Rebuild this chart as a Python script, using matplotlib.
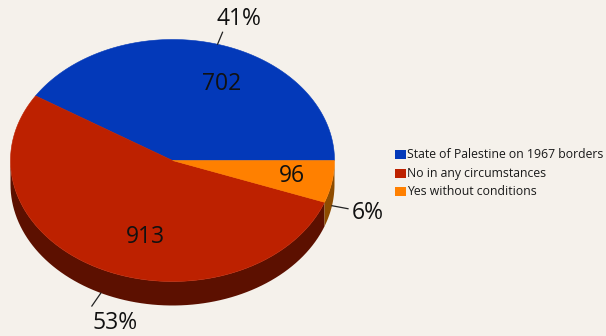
import numpy as np
import matplotlib.pyplot as plt
from matplotlib.patches import Polygon, Rectangle

labels = ["State of Palestine on 1967 borders", "No in any circumstances",
          "Yes without conditions"]
counts = [702, 913, 96]

top_colors = ["#0339b9", "#bd2100", "#ff8000"]
side_colors = ["#021f66", "#5c1000", "#8e4c00"]
bg = "#f5f1eb"

plt.rcParams['font.family'] = ['Open Sans', 'DejaVu Sans']

# pie geometry, in pixels
cx, cy = 172.5, 160.5
rx, ry = 162.0, 121.0
depth = 24.0


def pt(deg, r=1.0, dy=0.0):
    t = np.radians(deg)
    return cx + r * rx * np.cos(t), cy - r * ry * np.sin(t) + dy


fig = plt.figure(figsize=(6.06, 3.36), dpi=100, facecolor=bg)
ax = fig.add_axes([0, 0, 1, 1])
ax.set_xlim(0, 606)
ax.set_ylim(336, 0)
ax.axis('off')

total = float(sum(counts))
angles = np.cumsum([0] + [c / total * 360 for c in counts])

# side wall, only the front half (180..360 deg) is visible
for i in range(len(counts)):
    a, b = max(angles[i], 180), min(angles[i + 1], 360)
    if b <= a:
        continue
    ts = np.linspace(a, b, 80)
    upper = [pt(t) for t in ts]
    lower = [pt(t, dy=depth) for t in ts[::-1]]
    ax.add_patch(Polygon(upper + lower, closed=True, fc=side_colors[i],
                         ec='none', zorder=1))

# top face wedges
for i in range(len(counts)):
    ts = np.linspace(angles[i], angles[i + 1], 200)
    verts = [(cx, cy)] + [pt(t) for t in ts]
    ax.add_patch(Polygon(verts, closed=True, fc=top_colors[i],
                         ec=top_colors[i], lw=0.4, zorder=2))

# value labels on the top face
value_pos = [(222, 84), (145, 237), (292, 176)]
for (x, y), c in zip(value_pos, counts):
    ax.text(x, y, str(c), ha='center', va='center', fontsize=16.5,
            color='#111111', zorder=3)

# percentage labels with short leader lines
pct_off = [((5, -12), (21, -25)), ((-9, 13), (14, 30)), ((16, 3), (20, 7))]
for i, c in enumerate(counts):
    mid = (angles[i] + angles[i + 1]) / 2
    on_side = 180 < mid < 360
    x0, y0 = pt(mid, dy=depth if on_side else 0)
    (lx, ly), (tx, ty) = pct_off[i]
    ax.plot([x0, x0 + lx], [y0, y0 + ly], color='#222222', lw=0.9, zorder=3)
    ha = 'left' if i == 2 else 'center'
    ax.text(x0 + tx, y0 + ty, f"{round(c / total * 100):.0f}%", ha=ha,
            va='center', fontsize=16.5, color='#111111', zorder=3)

# legend
for i, lab in enumerate(labels):
    y = 154.5 + i * 18.5
    ax.add_patch(Rectangle((394.5, y - 4.5), 11, 9, fc=top_colors[i],
                           ec='none'))
    ax.text(407, y, lab, ha='left', va='center', fontsize=8.8,
            color='#1a1a1a')

fig.savefig("out.png", dpi=100, facecolor=bg)
